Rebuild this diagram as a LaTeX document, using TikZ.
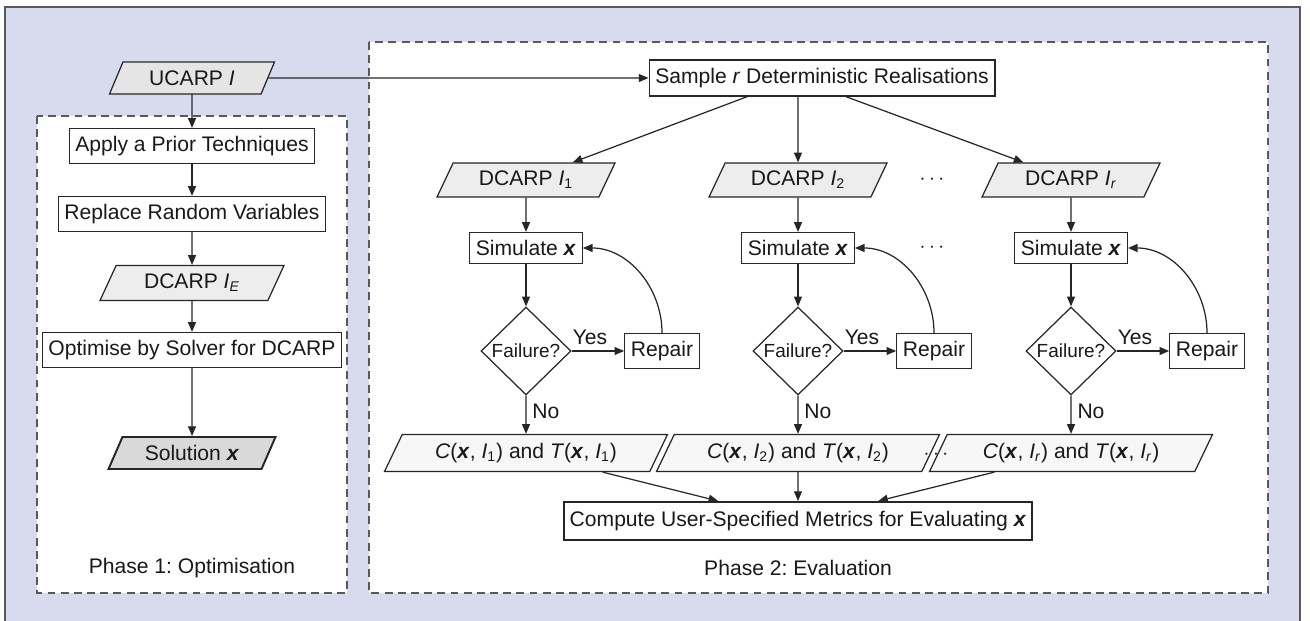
\documentclass[tikz,border=0pt]{standalone}
\usepackage{fontspec}
\setmainfont{Liberation Sans}
\usetikzlibrary{shapes.geometric,arrows.meta}
\definecolor{bgblue}{RGB}{216,218,237}
\newcommand{\bx}{\textbf{\textit{x}}}
\newcommand{\inst}[1]{\textit{I}\textsubscript{#1}}
\frenchspacing

\begin{document}
\begin{tikzpicture}[x=0.02cm,y=-0.02cm,line width=0.7pt,color=black!85,
  font=\fontsize{12pt}{14pt}\selectfont,
  every node/.style={text=black!90},
  arr/.style={-{Triangle[length=5.5pt,width=4.5pt]}},
  box/.style={draw,rectangle,fill=white,inner xsep=3.5pt,inner ysep=0pt,minimum height=0.7cm},
  data/.style={draw,trapezium,trapezium left angle=48,trapezium right angle=132,
    trapezium stretches body,inner ysep=0pt,minimum height=0.68cm,minimum width=3.56cm,fill=black!7},
  decision/.style={draw,diamond,aspect=1,inner sep=0pt,fill=white,minimum width=1.8cm,
    minimum height=1.76cm,font=\fontsize{10.8pt}{12pt}\selectfont},
  phasebox/.style={dash pattern=on 4.5pt off 3pt,fill=white,draw=black!65,line width=0.8pt}]
\useasboundingbox (0,0) rectangle (1310,621);
\fill[bgblue] (5,7) rectangle (1300,621);
\draw[line width=1.3pt,black!65] (5,621) -- (5,7) -- (1300,7) -- (1300,621);
\draw[phasebox] (37,116) rectangle (347,593);
\draw[phasebox] (369,42) rectangle (1268,593);

% phase 1
\node[data,fill=black!10,minimum width=3.3cm,minimum height=0.64cm] (ucarp) at (192,78) {UCARP \textit{I}};
\node[box] (prior) at (192,146) {Apply a Prior Techniques};
\node[box] (replace) at (192,214) {Replace Random Variables};
\node[data,minimum width=3.68cm,minimum height=0.7cm] (dIE) at (192,283) {DCARP \inst{\textit{E}}};
\node[box] (optim) at (192,350) {Optimise by Solver for DCARP};
\node[data,fill=black!15,line width=1.1pt,minimum width=3.34cm,minimum height=0.64cm] (sol) at (192,453) {Solution \bx};
\node (ph1) at (192,568) {Phase 1: Optimisation};
\draw[arr] (ucarp) -- (prior);
\draw[arr] (prior) -- (replace);
\draw[arr] (replace) -- (dIE);
\draw[arr] (dIE) -- (optim);
\draw[arr] (optim) -- (sol);

% phase 2
\node[box,minimum height=0.72cm] (sample) at (822,78) {Sample \textit{r} Deterministic Realisations};
\draw[arr] (ucarp) -- (sample);

\node[data] (d1) at (526,180) {DCARP \inst{1}};
\node[data] (d2) at (798,180) {DCARP \inst{2}};
\node[data] (dr) at (1071,180) {DCARP \inst{\textit{r}}};
\node (dots1) at (932,180) {$\cdots$};
\draw[arr] (sample.-166) -- (d1);
\draw[arr] (d2 |- sample.south) -- (d2);
\draw[arr] (sample.-38) -- (dr);

\node[box,minimum height=0.62cm] (sim1) at (526,248) {Simulate \bx};
\node[box,minimum height=0.62cm] (sim2) at (798,248) {Simulate \bx};
\node[box,minimum height=0.62cm] (simr) at (1071,248) {Simulate \bx};
\node (dots2) at (932,248) {$\cdots$};
\draw[arr] (d1) -- (sim1);
\draw[arr] (d2) -- (sim2);
\draw[arr] (dr) -- (simr);

\node[decision] (f1) at (526,351) {Failure?};
\node[decision] (f2) at (798,351) {Failure?};
\node[decision] (fr) at (1071,351) {Failure?};
\node[box] (rep1) at (662,351) {Repair};
\node[box] (rep2) at (934,351) {Repair};
\node[box] (repr) at (1207,351) {Repair};
\draw[arr] (sim1) -- (f1);
\draw[arr] (sim2) -- (f2);
\draw[arr] (simr) -- (fr);
\draw[arr] (f1) -- node[above,pos=.35] {Yes} (rep1);
\draw[arr] (f2) -- node[above,pos=.35] {Yes} (rep2);
\draw[arr] (fr) -- node[above,pos=.35] {Yes} (repr);
\draw[arr] (rep1.north) to[out=90,in=0] (sim1.east);
\draw[arr] (rep2.north) to[out=90,in=0] (sim2.east);
\draw[arr] (repr.north) to[out=90,in=0] (simr.east);

\node[data,fill=black!3,minimum width=5.66cm,minimum height=0.74cm] (c1) at (526,453)
  {\textit{C}(\bx, \inst{1}) and \textit{T}(\bx, \inst{1})};
\node[data,fill=black!3,minimum width=5.66cm,minimum height=0.74cm] (c2) at (798,453)
  {\textit{C}(\bx, \inst{2}) and \textit{T}(\bx, \inst{2})};
\node[data,fill=black!3,minimum width=5.66cm,minimum height=0.74cm] (cr) at (1071,453)
  {\textit{C}(\bx, \inst{\textit{r}}) and \textit{T}(\bx, \inst{\textit{r}})};
\node (dots3) at (936,455) {$\cdots$};
\draw[arr] (f1) -- node[right,pos=.4] {No} (c1);
\draw[arr] (f2) -- node[right,pos=.4] {No} (c2);
\draw[arr] (fr) -- node[right,pos=.4] {No} (cr);

\node[box,line width=1.1pt,minimum height=0.76cm] (metric) at (798,521)
  {Compute User-Specified Metrics for Evaluating \bx};
\draw[arr] (c1.-14) -- (metric);
\draw[arr] (c2) -- (metric);
\draw[arr] (cr.-166) -- (metric);
\node (ph2) at (798,568) {Phase 2: Evaluation};
\end{tikzpicture}
\end{document}
